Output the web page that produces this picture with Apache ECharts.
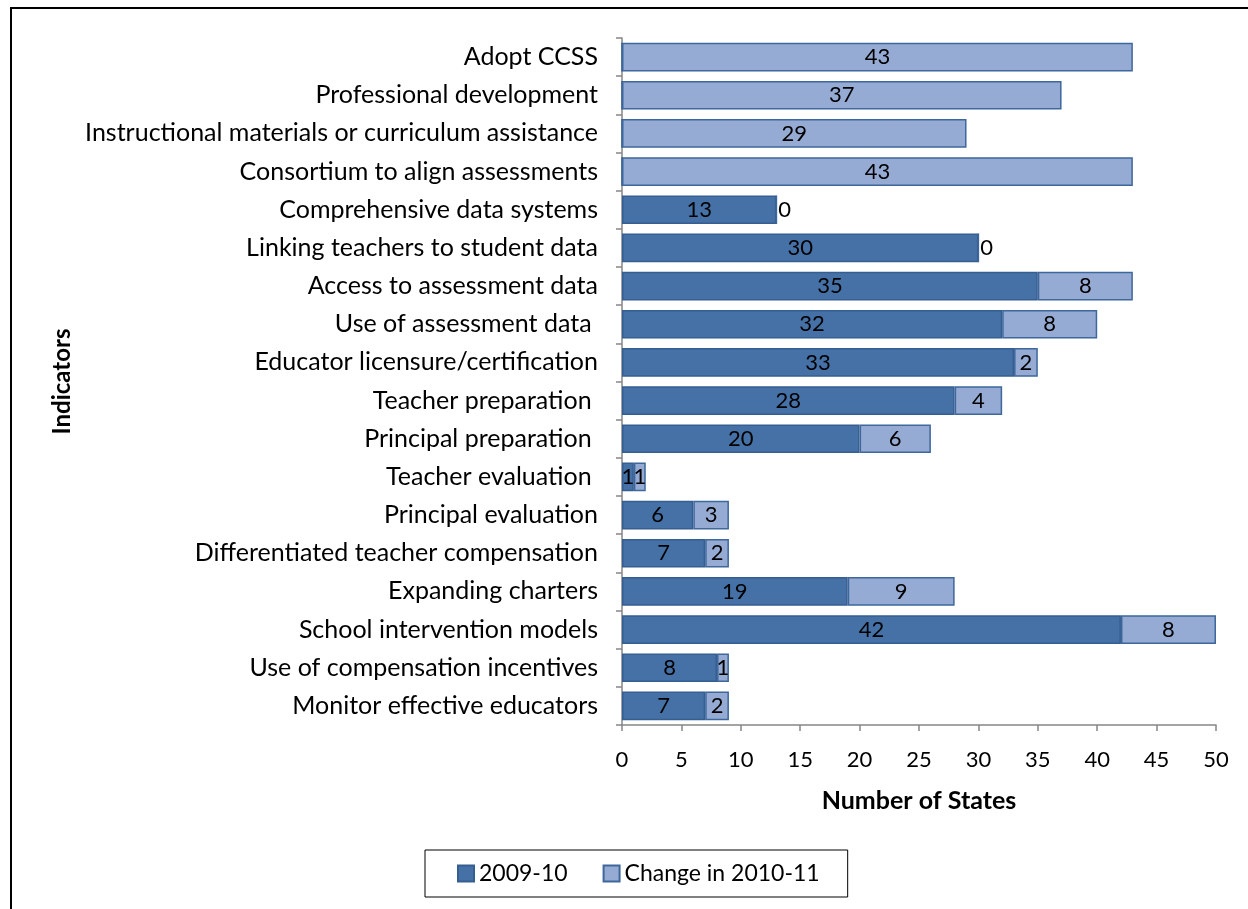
<!DOCTYPE html>
<html><head><meta charset="utf-8">
<script src="https://cdn.jsdelivr.net/npm/echarts@6/dist/echarts.min.js"></script>
<style>html,body{margin:0;padding:0;background:#fff}#c{width:1248px;height:909px}</style>
</head><body><div id="c"></div>
<script>
const categories = ["Adopt CCSS","Professional development","Instructional materials or curriculum assistance","Consortium to align assessments","Comprehensive data systems","Linking teachers to student data","Access to assessment data","Use of assessment data ","Educator licensure/certification","Teacher preparation ","Principal preparation ","Teacher evaluation ","Principal evaluation","Differentiated teacher compensation","Expanding charters","School intervention models","Use of compensation incentives","Monitor effective educators"];
const base0910 = [0,0,0,0,13,30,35,32,33,28,20,1,6,7,19,42,8,7];
const change1011 = [43,37,29,43,0,0,8,8,2,4,6,1,3,2,9,8,1,2];
const xTicks = {min:0, max:50, interval:5};
const FONT = 'Lato';

const chart = echarts.init(document.getElementById('c'));
const lbl = {show:true, position:'inside', color:'#000', fontSize:22, fontFamily:FONT};
chart.setOption({
  animation:false,
  textStyle:{fontFamily:FONT},
  graphic:[{type:'rect', shape:{x:11,y:8,width:1400,height:1100}, style:{fill:'none', stroke:'#000', lineWidth:2}, silent:true, z:100}],
  grid:{left:622, right:32, top:38, bottom:184, containLabel:false},
  legend:{left:425, top:850, padding:[12,28,12,32], itemGap:35, itemWidth:16, itemHeight:16,
    borderColor:'#000', borderWidth:1, icon:'rect',
    textStyle:{fontSize:23, color:'#000', fontFamily:FONT},
    data:['2009-10','Change in 2010-11']},
  xAxis:{type:'value', min:xTicks.min, max:xTicks.max, interval:xTicks.interval,
    name:'Number of States', nameLocation:'middle', nameGap:63,
    nameTextStyle:{fontSize:25, fontWeight:'bold', color:'#000', fontFamily:FONT},
    axisLine:{show:true, lineStyle:{color:'#868686', width:1.5}},
    axisTick:{show:true, length:6, lineStyle:{color:'#868686', width:1.5}},
    axisLabel:{fontSize:22, color:'#000', margin:24, fontFamily:FONT},
    splitLine:{show:false}},
  yAxis:{type:'category', data:categories, inverse:true,
    name:'Indicators', nameLocation:'middle', nameGap:548, nameRotate:90,
    nameTextStyle:{fontSize:24, fontWeight:'bold', color:'#000', fontFamily:FONT},
    axisLine:{show:true, lineStyle:{color:'#868686', width:1.5}},
    axisTick:{show:true, length:6, alignWithLabel:false, lineStyle:{color:'#868686', width:1.5}},
    axisLabel:{fontSize:25, color:'#000', margin:24, fontFamily:FONT}},
  series:[
    {name:'2009-10', type:'bar', stack:'s', barCategoryGap:'25%',
     itemStyle:{color:'#4571a7', borderColor:'#365f91', borderWidth:1.5},
     label:Object.assign({}, lbl, {formatter:p => p.value ? String(p.value) : ''}),
     data:base0910},
    {name:'Change in 2010-11', type:'bar', stack:'s', barCategoryGap:'25%',
     itemStyle:{color:'#95abd4', borderColor:'#3e679b', borderWidth:1.5},
     label:lbl,
     data:change1011.map(v => v === 0 ? {value:v, label:{position:'right', distance:1}} : v)}
  ]
});
</script></body></html>
